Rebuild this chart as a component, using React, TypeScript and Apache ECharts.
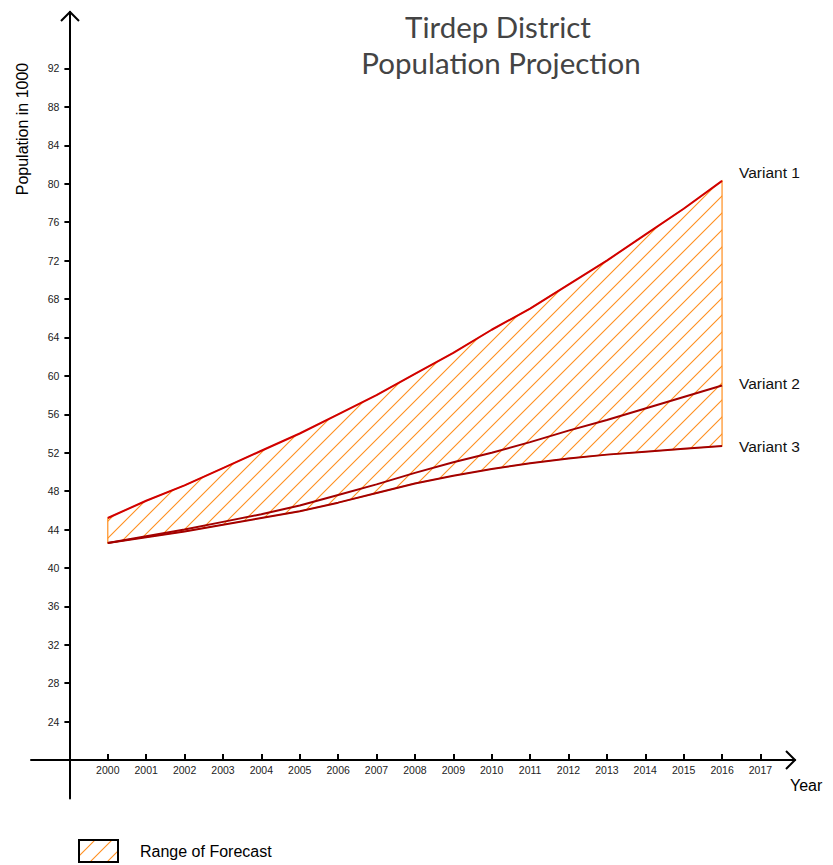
import React, { useEffect, useRef } from "react";
import * as echarts from "echarts";

const YEARS = [2000, 2001, 2002, 2003, 2004, 2005, 2006, 2007, 2008, 2009, 2010, 2011, 2012, 2013, 2014, 2015, 2016];
const VARIANT1 = [45.2, 47.0, 48.6, 50.4, 52.2, 54.0, 56.0, 58.0, 60.2, 62.4, 64.8, 67.0, 69.5, 72.0, 74.7, 77.4, 80.3];
const VARIANT2 = [42.6, 43.3, 44.0, 44.8, 45.6, 46.5, 47.6, 48.7, 49.9, 51.0, 52.0, 53.1, 54.3, 55.4, 56.6, 57.8, 59.0];
const VARIANT3 = [42.6, 43.2, 43.8, 44.5, 45.2, 45.9, 46.8, 47.8, 48.8, 49.6, 50.3, 50.9, 51.4, 51.8, 52.1, 52.4, 52.7];
const X_TICKS = [2000, 2001, 2002, 2003, 2004, 2005, 2006, 2007, 2008, 2009, 2010, 2011, 2012, 2013, 2014, 2015, 2016, 2017];
const Y_TICKS = [24, 28, 32, 36, 40, 44, 48, 52, 56, 60, 64, 68, 72, 76, 80, 84, 88, 92];
const SERIES_NAMES = ["Variant 1", "Variant 2", "Variant 3"];
const TITLE_LINES = ["Tirdep District", "Population Projection"];
const LEGEND_TEXT = "Range of Forecast";

const ORANGE = "#ff8f1f";
const FONT = "Liberation Sans";
const TITLE_FONT = "Lato";

function makeHatch() {
  const s = 17;
  const c = document.createElement("canvas");
  c.width = s;
  c.height = s;
  const ctx = c.getContext("2d")!;
  ctx.strokeStyle = ORANGE;
  ctx.lineWidth = 1.1;
  ctx.beginPath();
  ctx.moveTo(0, s);
  ctx.lineTo(s, 0);
  ctx.moveTo(-2, 2);
  ctx.lineTo(2, -2);
  ctx.moveTo(s - 2, s + 2);
  ctx.lineTo(s + 2, s - 2);
  ctx.stroke();
  return { image: c, repeat: "repeat" as const };
}

export default function App() {
  const ref = useRef<HTMLDivElement>(null);
  useEffect(() => {
    if (!ref.current) return;
    const chart = echarts.init(ref.current, undefined, { renderer: "svg" });
    const hatch = makeHatch();
    const lineData = (vals: number[]) => YEARS.map((y, i) => [y, vals[i]]);
    const option: any = {
      animation: false,
      backgroundColor: "#fff",
      grid: { left: 31, right: 38, top: 12, bottom: 66.5, outerBoundsMode: "none", containLabel: false },
      xAxis: {
        type: "value",
        min: 1998,
        max: 2017.9,
        interval: 1,
        offset: -38.4,
        axisLine: { show: true, lineStyle: { color: "#000", width: 2 } },
        axisTick: { show: true, inside: true, length: 6, customValues: X_TICKS, lineStyle: { color: "#000", width: 2 } },
        axisLabel: { show: true, margin: 4, customValues: X_TICKS, color: "#222", fontSize: 10.5, fontFamily: FONT, formatter: (v: number) => String(v) },
        splitLine: { show: false },
      },
      yAxis: {
        type: "value",
        min: 16,
        max: 97.88,
        interval: 4,
        offset: -38.4,
        axisLine: { show: true, lineStyle: { color: "#000", width: 2 } },
        axisTick: { show: true, inside: false, length: 5, customValues: Y_TICKS, lineStyle: { color: "#000", width: 2 } },
        axisLabel: { show: true, margin: 10, customValues: Y_TICKS, color: "#222", fontSize: 10.5, fontFamily: FONT },
        splitLine: { show: false },
      },
      series: [
        {
          type: "custom",
          name: LEGEND_TEXT,
          data: [[YEARS[0], VARIANT3[0]]],
          encode: { x: 0, y: 1 },
          renderItem: (params: any, api: any) => {
            const top = YEARS.map((y, i) => api.coord([y, VARIANT1[i]]));
            const bottom = YEARS.map((y, i) => api.coord([y, VARIANT3[i]])).reverse();
            return {
              type: "polygon",
              shape: { points: top.concat(bottom) },
              style: { fill: hatch, stroke: ORANGE, lineWidth: 1.2 },
            };
          },
          z: 1,
        },
        ...[VARIANT1, VARIANT2, VARIANT3].map((vals, k) => ({
          type: "line",
          name: SERIES_NAMES[k],
          data: lineData(vals),
          symbol: "none",
          smooth: false,
          z: 3,
          lineStyle: { color: k === 0 ? "#d10000" : "#a30000", width: 2 },
          endLabel: {
            show: true,
            formatter: SERIES_NAMES[k],
            distance: 17,
            offset: k === 0 ? [0, -8] : k === 1 ? [0, -2] : [0, 1],
            color: "#111",
            fontSize: 15.5,
            fontFamily: FONT,
          },
        })),
      ],
      graphic: [
        { type: "polyline", shape: { points: [[61, 21], [70, 12], [79, 21]] }, style: { stroke: "#000", lineWidth: 2, fill: "none" }, z: 10 },
        { type: "polyline", shape: { points: [[786, 751], [795, 760], [786, 769]] }, style: { stroke: "#000", lineWidth: 2, fill: "none" }, z: 10 },
        { type: "text", x: 22, y: 129, rotation: Math.PI / 2, style: { text: "Population in 1000", fill: "#000", fontSize: 16, fontFamily: FONT, align: "center", verticalAlign: "middle" } },
        { type: "text", x: 790, y: 785, style: { text: "Year", fill: "#000", fontSize: 16, fontFamily: FONT, align: "left", verticalAlign: "middle" } },
        { type: "text", x: 498, y: 26, style: { text: TITLE_LINES[0], fill: "#444", fontSize: 29.5, fontFamily: TITLE_FONT, align: "center", verticalAlign: "middle" } },
        { type: "text", x: 501, y: 62, style: { text: TITLE_LINES[1], fill: "#444", fontSize: 29.5, fontFamily: TITLE_FONT, align: "center", verticalAlign: "middle" } },
        { type: "rect", shape: { x: 79, y: 840, width: 39, height: 22 }, style: { fill: hatch, stroke: "#000", lineWidth: 2 } },
        { type: "text", x: 140, y: 851, style: { text: LEGEND_TEXT, fill: "#000", fontSize: 16, fontFamily: FONT, align: "left", verticalAlign: "middle" } },
      ],
    };
    chart.setOption(option);
    return () => chart.dispose();
  }, []);
  return <div ref={ref} style={{ position: "fixed", left: 0, top: 0, width: 833, height: 865, background: "#fff" }} />;
}
